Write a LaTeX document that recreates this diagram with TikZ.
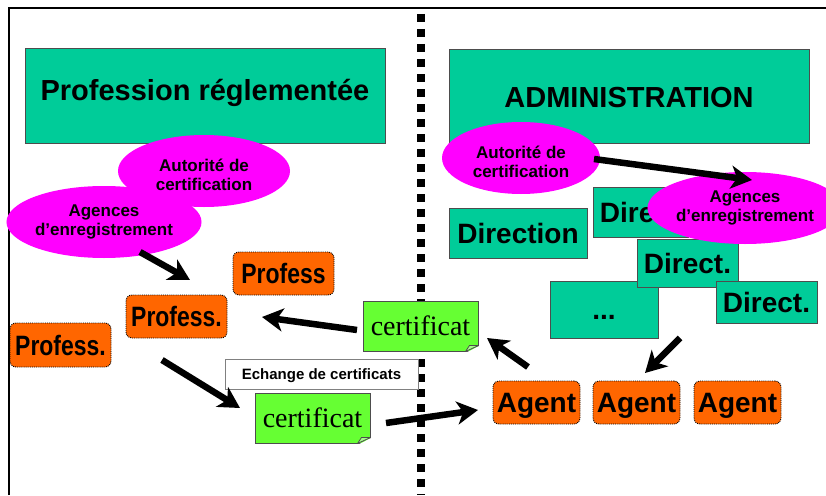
\documentclass[tikz,border=0pt]{standalone}
\usepackage{fontspec}
\setmainfont{Liberation Sans}
\newfontfamily\narrowfont[FakeStretch=0.82]{Liberation Sans}
\newfontfamily\certfont{Liberation Serif}
\usetikzlibrary{arrows.meta, shapes.geometric}
\definecolor{boxteal}{HTML}{00CC99}
\definecolor{ellmag}{HTML}{FF00FF}
\definecolor{proforange}{HTML}{FF6600}
\definecolor{certgreen}{HTML}{66FF33}
\definecolor{foldgreen}{HTML}{A6FF8A}
\definecolor{edgegray}{HTML}{4D4D4D}

\begin{document}
\begin{tikzpicture}[x=1pt, y=-1pt,
    tealbox/.style={rectangle, draw=edgegray, line width=1pt, fill=boxteal, inner sep=0pt,
      text height=20pt, text depth=0pt, font=\bfseries\fontsize{28}{32}\selectfont},
    bigbox/.style={tealbox, text height=21pt, font=\bfseries\fontsize{29}{33}\selectfont},
    roleell/.style={ellipse, fill=ellmag, inner sep=0pt, align=center,
      font=\bfseries\fontsize{17}{19}\selectfont},
    profbox/.style={rectangle, rounded corners=6pt, draw=black, densely dotted, line width=0.9pt,
      fill=proforange, inner sep=0pt, minimum width=101pt, minimum height=43pt,
      text height=20pt, text depth=0pt, font=\narrowfont\bfseries\fontsize{28}{32}\selectfont},
    agentbox/.style={profbox, minimum width=87pt, font=\bfseries\fontsize{28}{32}\selectfont},
    certbox/.style={rectangle, draw=edgegray, line width=1pt, fill=certgreen, inner sep=0pt,
      minimum width=115pt, minimum height=50pt, font=\certfont\fontsize{28}{32}\selectfont},
    notebox/.style={rectangle, draw=gray, line width=1pt, fill=white, inner sep=0pt,
      text height=11pt, text depth=0pt, font=\bfseries\fontsize{15}{17}\selectfont},
    bigarrow/.style={line width=6.5pt, -{Stealth[length=21pt, width=23pt, inset=6pt]}}]
  \useasboundingbox (0,0) rectangle (826,495);

  % frame
  \draw[line width=2.5pt] (9,495) -- (9,8) -- (826,8);

  % headers
  \node[bigbox, minimum width=360pt, minimum height=94pt] (prof) at (205,96)
    {\raisebox{6pt}{Profession réglementée}};
  \node[bigbox, minimum width=360pt, minimum height=93pt] (admin) at (629,96.5) {ADMINISTRATION};

  \node[roleell, minimum width=172pt, minimum height=72pt] (autL) at (204,171)
    {\rule{0pt}{21pt}Autorité de\\certification};
  \node[roleell, minimum width=188pt, minimum height=72pt] (agL) at (104,222)
    {Agences\\d’enregistrement};
  \node[roleell, minimum width=158pt, minimum height=72pt] (autR) at (521,158)
    {\rule{0pt}{21pt}Autorité de\\certification};

  % separation
  \draw[line width=8pt, dash pattern=on 8pt off 7pt] (421,14) -- (421,495);

  % administration side
  \node[tealbox, minimum width=138pt, minimum height=50pt] (dir) at (518,233) {Direction};
  \node[tealbox, minimum width=95pt, minimum height=50pt] (dirA) at (640.5,212) {\hspace*{6pt}Direct.};
  \node[tealbox, minimum width=108pt, minimum height=57pt] (dots) at (604,309.5) {...};
  \node[tealbox, minimum width=101pt, minimum height=48pt] (dirB) at (687.5,263) {Direct.};
  \node[tealbox, minimum width=101pt, minimum height=42pt] (dirC) at (766.5,302) {Direct.};
  \node[roleell, minimum width=160pt, minimum height=72pt] (agR) at (745,208)
    {Agences\\d’enregistrement};

  \node[agentbox] (agent1) at (536.5,402.5) {Agent};
  \node[agentbox] (agent2) at (636.5,402.5) {Agent};
  \node[agentbox] (agent3) at (737.5,402.5) {Agent};

  % profession side
  \node[profbox] (profA) at (283.5,273.5) {Profess};
  \node[profbox] (profB) at (176.5,316.5) {Profess.};
  \node[profbox, minimum height=44pt] (profC) at (60.5,345) {Profess.};

  \node[notebox, minimum width=193pt, minimum height=30pt] (swap) at (321.5,374) {Echange de certificats};
  \node[certbox] (certU) at (420.5,326) {certificat};
  \node[certbox] (certL) at (312.5,418) {certificat};
  \foreach \c in {certU,certL} {
    \fill[white] ([xshift=-13pt,yshift=-1.5pt]\c.south east) -- ([xshift=1.5pt,yshift=-1.5pt]\c.south east)
      -- ([xshift=1.5pt,yshift=6pt]\c.south east) -- cycle;
    \filldraw[draw=edgegray, fill=foldgreen, line width=0.8pt, line join=round]
      ([xshift=-13pt]\c.south east) -- ([xshift=-9pt,yshift=6pt]\c.south east)
      -- ([yshift=6pt]\c.south east) -- cycle;
  }

  % arrows
  \coordinate (agLout) at (140,252);   \coordinate (profBin) at (190,280);
  \coordinate (certUout) at (357,330); \coordinate (profBback) at (262,317);
  \coordinate (profout) at (162,360);  \coordinate (certLin) at (240,408);
  \coordinate (certLout) at (386,423); \coordinate (agent1in) at (478,410);
  \coordinate (agent1out) at (528,367); \coordinate (certUin) at (487,338);
  \coordinate (dotsout) at (680,338);  \coordinate (agent2in) at (645,373);
  \coordinate (autRout) at (594,159);  \coordinate (agRin) at (752,180);

  \draw[bigarrow] (agLout) -- (profBin);
  \draw[bigarrow] (certUout) -- (profBback);
  \draw[bigarrow] (profout) -- (certLin);
  \draw[bigarrow] (certLout) -- (agent1in);
  \draw[bigarrow] (agent1out) -- (certUin);
  \draw[bigarrow] (dotsout) -- (agent2in);
  \draw[bigarrow] (autRout) -- (agRin);
\end{tikzpicture}
\end{document}
